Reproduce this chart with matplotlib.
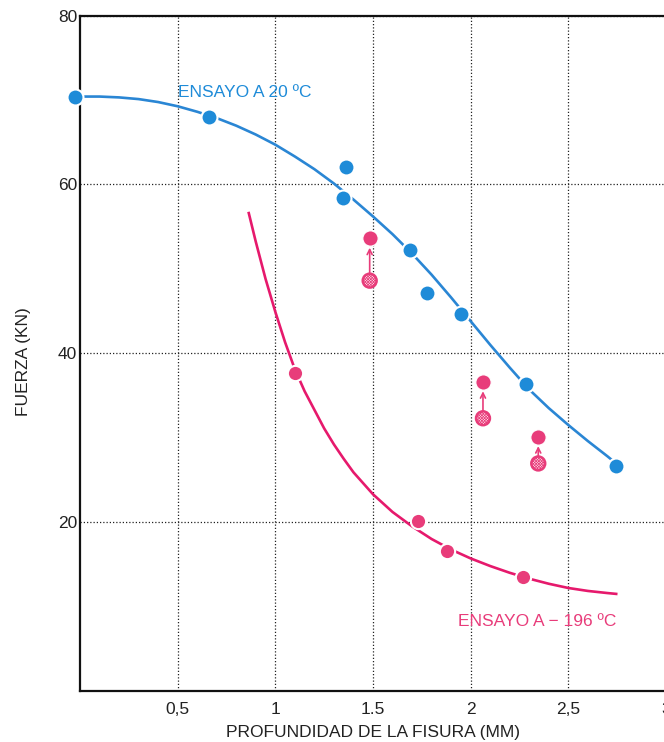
import matplotlib
matplotlib.use('Agg')
import matplotlib.pyplot as plt

plt.rcParams['font.family'] = ['Liberation Sans', 'DejaVu Sans']

# blue series: test at 20 ºC
blue_x = [-0.025, 0.66, 1.363, 1.348, 1.689, 1.775, 1.948, 2.281, 2.742]
blue_y = [70.4, 68.0, 62.0, 58.4, 52.2, 47.1, 44.7, 36.3, 26.7]
blue_curve_x = [0.0, 0.1, 0.2, 0.3, 0.4, 0.5, 0.6, 0.7, 0.8, 0.9, 1.0,
                1.1, 1.2, 1.3, 1.4, 1.5, 1.6, 1.7, 1.8, 1.9, 2.0,
                2.1, 2.2, 2.3, 2.4, 2.5, 2.6, 2.7, 2.742]
blue_curve_y = [70.4, 70.4, 70.3, 70.1, 69.75, 69.25, 68.6, 67.85, 66.95, 65.9, 64.7,
                63.3, 61.8, 60.1, 58.2, 56.2, 54.1, 51.8, 49.3, 46.6, 43.8,
                41.0, 38.3, 35.7, 33.5, 31.5, 29.6, 27.8, 27.0]

# pink series: test at -196 ºC
pink_x = [1.102, 1.730, 1.879, 2.268]
pink_y = [37.7, 20.15, 16.6, 13.5]
pink_curve_x = [0.864, 0.9, 0.95, 1.0, 1.05, 1.1, 1.15, 1.2, 1.25, 1.3, 1.35,
                1.4, 1.5, 1.6, 1.7, 1.8, 1.9, 2.0, 2.1, 2.2, 2.3, 2.4, 2.5,
                2.6, 2.7, 2.745]
pink_curve_y = [56.6, 53.2, 48.8, 44.9, 41.3, 38.1, 35.5, 33.3, 31.1, 29.2, 27.5,
                25.9, 23.3, 21.2, 19.5, 18.0, 16.75, 15.7, 14.8, 14.0, 13.3, 12.7, 12.2,
                11.85, 11.6, 11.5]

# pink pairs: before (hatched) -> after (solid)
pair_x = [1.483, 2.063, 2.346]
pair_before = [48.6, 32.3, 26.95]
pair_after = [53.6, 36.6, 30.1]

x_ticks = [0.5, 1, 1.5, 2, 2.5, 3]
x_ticklabels = ['0,5', '1', '1.5', '2', '2,5', '3']
y_ticks = [20, 40, 60, 80]
y_ticklabels = ['20', '40', '60', '80']

BLUE = '#1e8bd8'
BLUE_LINE = '#2a86d4'
PINK = '#e83c7a'
PINK_LINE = '#e6196c'
FS = 12.5

fig = plt.figure(figsize=(6.64, 7.42), dpi=100)
ax = fig.add_axes([80 / 664, 51 / 742, 586 / 664, 675.5 / 742])
ax.set_xlim(0, 3)
ax.set_ylim(0, 80)

ax.grid(True, color='#222222', linestyle=(0, (1, 1.6)), linewidth=0.9)
ax.set_axisbelow(True)

ax.plot(blue_curve_x, blue_curve_y, color=BLUE_LINE, lw=1.9, zorder=3)
ax.plot(pink_curve_x, pink_curve_y, color=PINK_LINE, lw=1.9, zorder=3)

ax.plot(blue_x, blue_y, 'o', ms=11.5, color=BLUE, mec='white', mew=1.5,
        zorder=5, clip_on=False)
ax.plot(pink_x, pink_y, 'o', ms=11, color=PINK, mec='white', mew=1.5, zorder=5)

# arrows from before to after
for x, y0, y1 in zip(pair_x, pair_before, pair_after):
    ax.annotate('', xy=(x, y1 - 1.1), xytext=(x, y0 + 0.9),
                arrowprops=dict(arrowstyle='->', color=PINK, lw=1.2,
                                shrinkA=0, shrinkB=0, mutation_scale=9),
                zorder=4)

ax.plot(pair_x, pair_after, 'o', ms=11, color=PINK, mec='white', mew=0.8,
        zorder=5)
plt.rcParams['hatch.color'] = PINK
plt.rcParams['hatch.linewidth'] = 0.5
ax.scatter(pair_x, pair_before, s=100, facecolors='#fde0ea', edgecolors=PINK,
           hatch='x' * 12, linewidths=1.8, zorder=5)

ax.text(0.5, 70.33, 'ENSAYO A 20 ºC', color=BLUE, fontsize=FS,
        ha='left', va='baseline')
ax.text(1.937, 7.7, 'ENSAYO A \u2212 196 ºC', color=PINK, fontsize=FS,
        ha='left', va='baseline')

ax.set_xticks(x_ticks)
ax.set_xticklabels(x_ticklabels)
ax.set_yticks(y_ticks)
ax.set_yticklabels(y_ticklabels)
ax.tick_params(axis='both', length=0, labelsize=FS, colors='#222222')
ax.tick_params(axis='x', pad=8)
ax.tick_params(axis='y', pad=2)

for side in ['left', 'bottom', 'top']:
    ax.spines[side].set_linewidth(1.6)
    ax.spines[side].set_color('#111111')
ax.spines['right'].set_visible(False)

ax.set_xlabel('PROFUNDIDAD DE LA FISURA (MM)', fontsize=FS, color='#222222')
ax.set_ylabel('FUERZA (KN)', fontsize=FS, color='#222222')
ax.xaxis.set_label_coords(0.5, -0.05)
ax.yaxis.set_label_coords(-0.084, 0.488)

fig.savefig('out.png', dpi=100)
